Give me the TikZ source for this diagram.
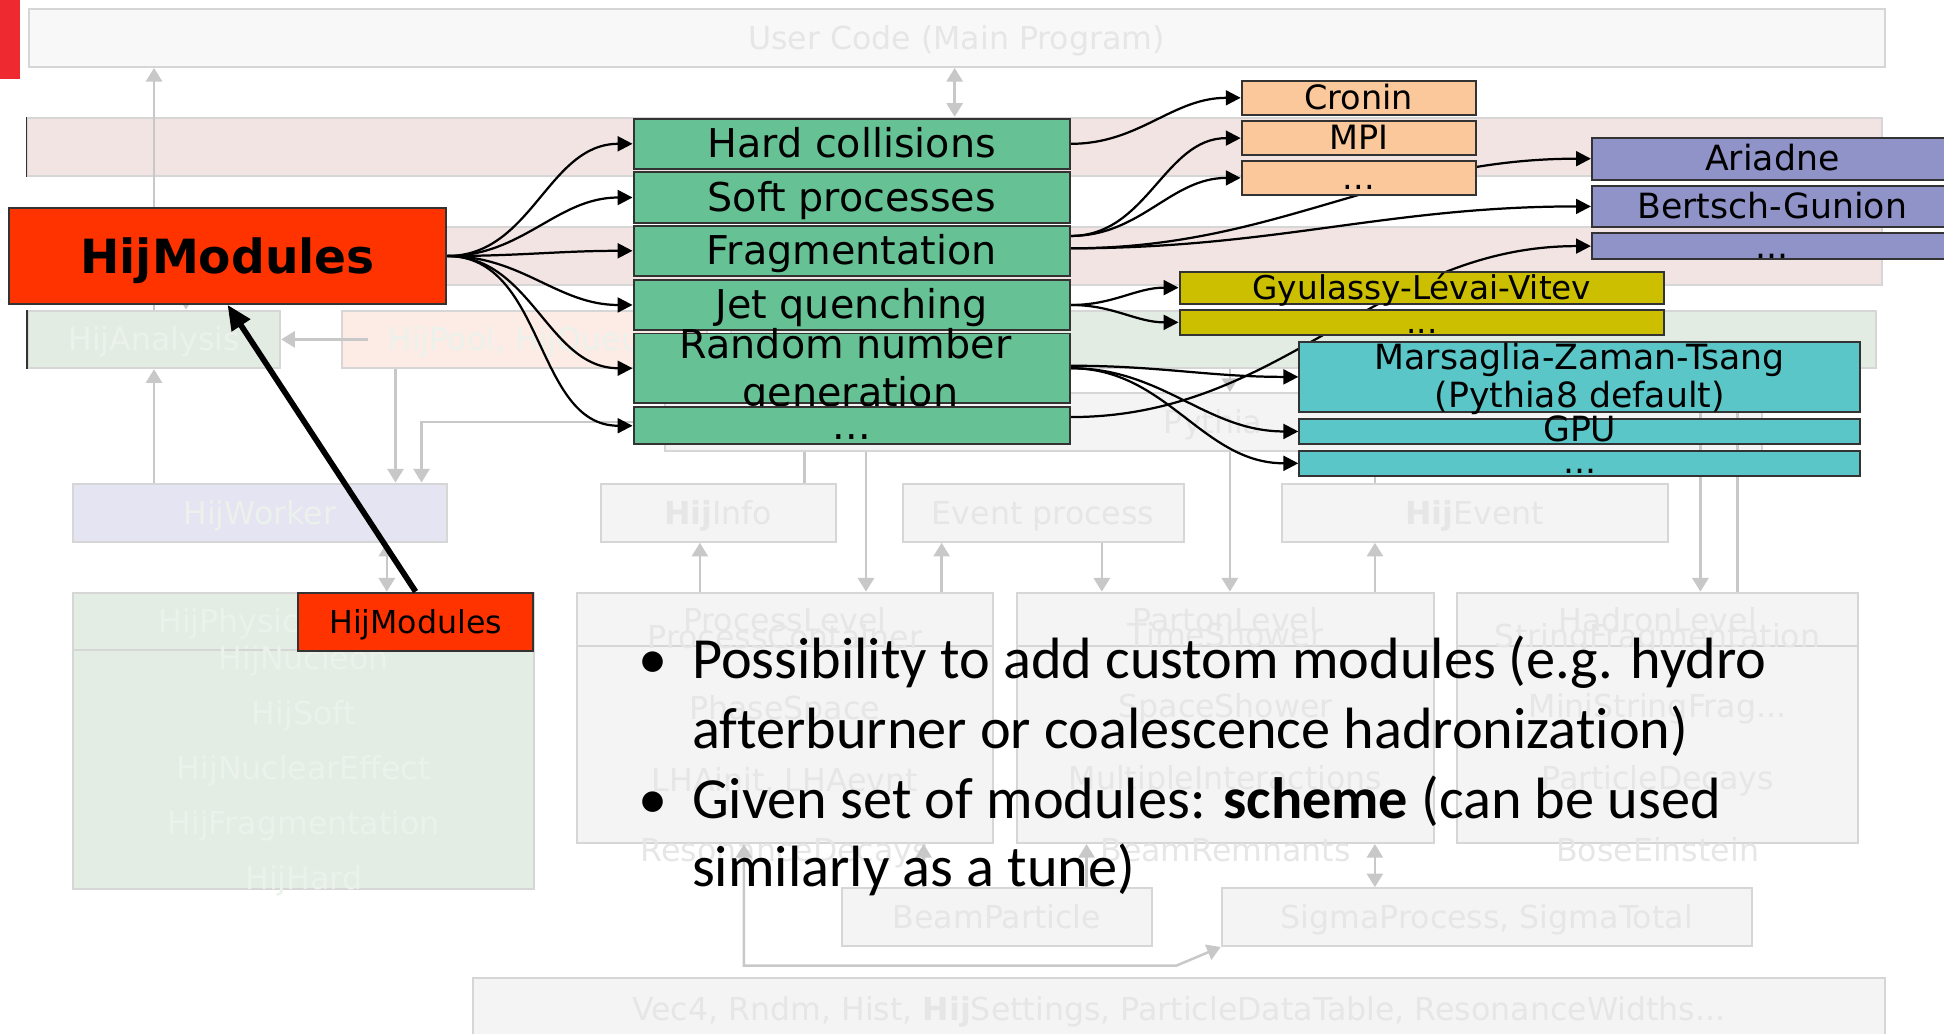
\documentclass[tikz,border=0pt]{standalone}
\usepackage{fontspec}
\setmainfont{DejaVu Sans}
\newfontfamily\calibfont[Ligatures=NoCommon]{Carlito}
\usetikzlibrary{arrows.meta}
\pgfdeclarelayer{bg}\pgfdeclarelayer{mid}\pgfsetlayers{bg,mid,main}
\definecolor{hred}{HTML}{FF3300}
\definecolor{hgreen}{HTML}{66C295}
\definecolor{hpeach}{HTML}{FAC89A}
\definecolor{hpurple}{HTML}{8F93C8}
\definecolor{hyellow}{HTML}{CCBF00}
\definecolor{hcyan}{HTML}{5BC6C8}
\definecolor{hedge}{HTML}{333333}
\definecolor{hredbar}{HTML}{EE2A30}
\definecolor{fgray}{HTML}{F4F4F4}
\definecolor{fborder}{HTML}{D6D6D6}
\definecolor{ftext}{HTML}{E6E6E6}
\definecolor{ftextL}{HTML}{EBF1EB}
\definecolor{farrow}{HTML}{C8C8C8}
\definecolor{fpink}{HTML}{F3E4E4}
\definecolor{fgreen}{HTML}{E3ECE3}
\definecolor{fphys}{HTML}{E4EDE4}
\definecolor{fpool}{HTML}{FDECE5}
\definecolor{fworker}{HTML}{E4E4F3}
\definecolor{fuser}{HTML}{F8F8F8}
\begin{document}
\begin{tikzpicture}[x=1pt,y=-1pt,
  fg/.style={draw=hedge, line width=1.6pt, inner sep=0pt, text depth=0pt},
  gbox/.style={fg, fill=hgreen, minimum width=352pt, font=\fontsize{32}{38}\selectfont, text height=22.6pt},
  gtxt/.style={anchor=base, inner sep=0pt, font=\fontsize{32}{38}\selectfont},
  pbox/.style={fg, fill=hpeach, minimum width=189pt, font=\fontsize{27}{32}\selectfont, text height=18.6pt},
  lbox/.style={fg, fill=hpurple, minimum width=291pt, font=\fontsize{28}{33}\selectfont, text height=19.8pt},
  ybox/.style={fg, fill=hyellow, minimum width=391pt, font=\fontsize{26.4}{31}\selectfont, text height=18.4pt},
  cbox/.style={fg, fill=hcyan, minimum width=452.4pt, font=\fontsize{28}{33}\selectfont, text height=16.5pt},
  ctxt/.style={anchor=base, inner sep=0pt, font=\fontsize{28}{33}\selectfont},
  carr/.style={line width=1.8pt, -{Triangle[length=12pt,width=12pt]}},
  fbox/.style={draw=fborder, line width=1.6pt, fill=fgray, inner sep=0pt, text=ftext, font=\fontsize{25.5}{30.6}\selectfont, text height=18.6pt, text depth=0pt},
  ftxt/.style={text=ftext, font=\fontsize{25.5}{30.6}\selectfont, inner sep=0pt, anchor=base},
  farr/.style={draw=farrow, line width=2pt, -{Triangle[length=11pt,width=13pt]}},
  fdarr/.style={draw=farrow, line width=2pt, {Triangle[length=11pt,width=13pt]}-{Triangle[length=11pt,width=13pt]}},
  fconn/.style={draw=farrow, line width=2pt},
  fdiv/.style={draw=fborder, line width=1.6pt},
  btxt/.style={anchor=base west, inner sep=0pt, font=\calibfont\fontsize{47}{56}\selectfont}
]
\useasboundingbox (0,0) rectangle (1568,834);

% ---------------- faded background diagram ----------------
\begin{pgfonlayer}{bg}
\fill[hredbar] (0,0) rectangle (16,64);
\node[fbox, fill=fuser, minimum width=1497pt, minimum height=47pt] (uc) at (771.5,30.5) {User Code (Main Program)};
\node[fbox, fill=fpink, minimum width=1496pt, minimum height=47pt] (pb1) at (770,118.5) {};
\node[fbox, fill=fpink, minimum width=1496pt, minimum height=47pt] (pb2) at (770,206.5) {};
\node[fbox, fill=fgreen, text=ftextL, minimum width=203.5pt, minimum height=46.5pt] (ana) at (124.25,273.75) {HijAnalysis};
\node[fbox, fill=fpool, text=ftextL, minimum width=294pt, minimum height=46.5pt] (pool) at (423,273.75) {HijPool, HijQueue};
\node[fbox, fill=fgreen, minimum width=923pt, minimum height=46.5pt] (gband) at (1051.5,273.75) {};
\draw[hedge, line width=1.2pt] (pb1.north west) -- (pb1.south west);
\draw[hedge, line width=1.2pt] (ana.north west) -- (ana.south west);
\node[fbox, minimum width=885pt, minimum height=47pt] (pyth) at (978.5,340.5) {Pythia};
\node[fbox, fill=fworker, text=ftextL, minimum width=302pt, minimum height=47pt] (worker) at (209.5,413.5) {HijWorker};
\node[fbox, minimum width=189.3pt, minimum height=47pt] (info) at (579.35,413.5) {\textbf{Hij}Info};
\node[fbox, minimum width=226.6pt, minimum height=47pt] (evproc) at (841.3,413.5) {Event process};
\node[fbox, minimum width=311pt, minimum height=47pt] (event) at (1189.5,413.5) {\textbf{Hij}Event};
\node[fbox, fill=fphys, minimum width=372.5pt, minimum height=239pt] (phys) at (244.75,597.5) {};
\node[fbox, minimum width=336pt, minimum height=202pt] (proc) at (633,579) {};
\node[fbox, minimum width=336.1pt, minimum height=202pt] (parton) at (988.45,579) {};
\node[fbox, minimum width=324pt, minimum height=202pt] (hadron) at (1337,579) {};
\node[fbox, minimum width=250pt, minimum height=46.6pt] (beam) at (804,739.7) {BeamParticle};
\node[fbox, minimum width=427.6pt, minimum height=46.6pt] (sigma) at (1199.2,739.7) {SigmaProcess, SigmaTotal};
\node[fbox, minimum width=1138.5pt, minimum height=70pt] (util) at (950.75,824) {};
\node[ftxt] (utilT) at (950.75,822.8) {Vec4, Rndm, Hist, \textbf{Hij}Settings, ParticleDataTable, ResonanceWidths...};
\draw[fdiv] (phys.north west) ++(0,47) -- ++(372.5,0);
\draw[fdiv] (proc.north west) ++(0,43.5) -- ++(336,0);
\draw[fdiv] (parton.north west) ++(0,43.5) -- ++(336.1,0);
\draw[fdiv] (hadron.north west) ++(0,43.5) -- ++(324,0);
% texts in the level boxes
\node[ftxt, text=ftextL, anchor=base west] (physT) at (127.5,510) {HijPhysics};
\node[ftxt, text=ftextL] (physA) at (245,540) {HijNucleon};
\node[ftxt, text=ftextL] (physB) at (245,584.7) {HijSoft};
\node[ftxt, text=ftextL] (physC) at (245,629) {HijNuclearEffect};
\node[ftxt, text=ftextL] (physD) at (245,673.4) {HijFragmentation};
\node[ftxt, text=ftextL] (physE) at (245,717.7) {HijHard};
\node[ftxt] (procT) at (633,509.4) {ProcessLevel};
\node[ftxt] (procA) at (633,522.8) {ProcessContainer};
\node[ftxt] (procB) at (633,580.6) {PhaseSpace};
\node[ftxt] (procC) at (633,638.4) {LHAinit, LHAevnt};
\node[ftxt] (procD) at (633,694.9) {ResonanceDecays};
\node[ftxt] (partT) at (988.5,509) {PartonLevel};
\node[ftxt] (partA) at (988.5,521.5) {TimeShower};
\node[ftxt] (partB) at (988.5,579) {SpaceShower};
\node[ftxt] (partC) at (988.5,637) {MultipleInteractions};
\node[ftxt] (partD) at (988.5,695) {BeamRemnants};
\node[ftxt] (hadT) at (1337,509) {HadronLevel};
\node[ftxt] (hadA) at (1337,522) {StringFragmentation};
\node[ftxt] (hadB) at (1337,579) {MiniStringFrag...};
\node[ftxt] (hadC) at (1337,637) {ParticleDecays};
\node[ftxt] (hadD) at (1337,695) {BoseEinstein};
% faded connectors
\draw[farr] (ana.north) -- (ana.north |- uc.south);
\draw[fdarr] (pb1.north) -- (pb1.north |- uc.south);
\draw[farr] ([xshift=-620pt]pb2.south) -- ([xshift=-620pt]pb2.south |- ana.north);
\draw[farr] ([xshift=22pt]pool.west) -- (ana.east);
\draw[farr] (worker.north -| ana.north) -- (ana.south);
\draw[farr] ([xshift=-104pt]pool.south) -- ([xshift=-104pt]pool.south |- worker.north);
\draw[farr] (pyth.west) -| ([xshift=130.5pt]worker.north);
\draw[fdarr] ([xshift=102.5pt]worker.south) -- ([xshift=102.5pt]worker.south |- phys.north);
\draw[fconn] ([xshift=69.65pt]info.north) -- ([xshift=69.65pt]info.north |- pyth.south);
\draw[farr] ([xshift=-280pt]pyth.south) -- ([xshift=-280pt]pyth.south |- proc.north);
\draw[farr] ([xshift=-68.5pt]proc.north) -- ([xshift=-68.5pt]proc.north |- info.south);
\draw[farr] ([xshift=126.5pt]proc.north) -- ([xshift=126.5pt]proc.north |- evproc.south);
\draw[farr] ([xshift=47.4pt]evproc.south) -- ([xshift=47.4pt]evproc.south |- parton.north);
\draw[farr] ([xshift=13.5pt]pyth.north |- gband.south) -- ([xshift=13.5pt]pyth.north);
\draw[farr] ([xshift=13.5pt]pyth.south) -- ([xshift=13.5pt]pyth.south |- parton.north);
\draw[farr] ([xshift=-80.5pt]event.south |- parton.north) -- ([xshift=-80.5pt]event.south);
\draw[fconn] ([xshift=-80.5pt]event.north) -- ([xshift=-80.5pt]event.north |- pyth.south);
\draw[farr] ([xshift=34.5pt]hadron.north |- gband.south) -- ([xshift=34.5pt]hadron.north);
\draw[fconn] ([xshift=64.4pt]hadron.north |- gband.south) -- ([xshift=64.4pt]hadron.north);
\draw[fdarr] ([xshift=120.5pt]parton.south) -- ([xshift=120.5pt]parton.south |- sigma.north);
\draw[farr] ([xshift=72.4pt]beam.north) -- ([xshift=72.4pt]beam.north |- parton.south);
\draw[farr] ([xshift=-59pt]beam.north) -- ([xshift=-59pt]beam.north |- proc.south);
\draw[fdarr] ([xshift=-33pt]proc.south) -- ++(0,98) -- ++(349,0) -- (sigma.south west);
\end{pgfonlayer}

% ---------------- foreground modules ----------------
\node[fg, fill=hred, minimum width=353pt, minimum height=77pt, font=\bfseries\fontsize{38}{45}\selectfont, text height=27.7pt] (hm) at (183.5,206.5) {HijModules};
\node[gbox, minimum height=40pt] (hc) at (687,116) {Hard collisions};
\node[gbox, minimum height=40.5pt] (sp) at (687,159.3) {Soft processes};
\node[gbox, minimum height=40.5pt] (fr) at (687,202.3) {Fragmentation};
\node[gbox, minimum height=40.2pt] (jq) at (687,246) {Jet quenching};
\node[gbox, minimum height=56pt] (rng) at (687,297) {};
\node[gtxt] (rngA) at (682,289) {Random number};
\node[gtxt] (rngB) at (686,328) {generation};
\node[gbox, minimum height=30pt] (gdots) at (687,343.4) {...};

\node[pbox, minimum height=27.7pt] (cronin) at (1096,78.9) {Cronin};
\node[pbox, minimum height=27.2pt] (mpi) at (1096,111.4) {MPI};
\node[pbox, minimum height=27.5pt] (odots) at (1096,143.5) {...};

\node[lbox, minimum height=34pt] (ariadne) at (1429.5,128) {Ariadne};
\node[lbox, minimum height=33.6pt] (bertsch) at (1429.5,166.5) {Bertsch-Gunion};
\node[lbox, minimum height=21pt] (pdots) at (1429.5,198.5) {...};

\node[ybox, minimum height=26pt] (glv) at (1146.9,232) {Gyulassy-Lévai-Vitev};
\node[ybox, minimum height=20pt] (ydots) at (1146.9,260) {...};

\node[cbox, minimum height=57pt] (mzt) at (1274.2,304) {};
\node[ctxt] (mztA) at (1274.2,297.8) {Marsaglia-Zaman-Tsang};
\node[ctxt] (mztB) at (1274.2,329) {(Pythia8 default)};
\node[cbox, minimum height=20pt] (gpu) at (1274.2,348) {GPU};
\node[cbox, minimum height=20.5pt] (cdots) at (1274.2,373.7) {...};

\node[fg, fill=hred, minimum width=189.5pt, minimum height=47pt, font=\fontsize{25.5}{30}\selectfont, text height=18.6pt] (hms) at (335.25,501.5) {HijModules};

% ---------------- black connectors ----------------
\begin{pgfonlayer}{mid}
\foreach \t in {hc,sp,fr,jq,rng,gdots}
  \draw[carr] (hm.east) to[out=0,in=180] (\t.west);
\draw[carr] (hc.east) to[out=0,in=180] (cronin.west);
\draw[carr] ([yshift=12pt]fr.east) to[out=0,in=180] (mpi.west);
\draw[carr] ([yshift=12pt]fr.east) to[out=0,in=180] (odots.west);
\draw[carr] ([yshift=2pt]fr.east) to[out=0,in=180] (ariadne.west);
\draw[carr] ([yshift=2pt]fr.east) to[out=0,in=180] (bertsch.west);
\draw[carr] ([yshift=7pt]gdots.east) to[out=0,in=180] (pdots.west);
\draw[carr] (jq.east) to[out=0,in=180] (glv.west);
\draw[carr] (jq.east) to[out=0,in=180] (ydots.west);
\draw[carr] ([yshift=2pt]rng.east) to[out=0,in=180] (mzt.west);
\draw[carr] (rng.east) to[out=0,in=180] (gpu.west);
\draw[carr] (rng.east) to[out=0,in=180] (cdots.west);
\end{pgfonlayer}

\draw[line width=4.6pt, -{Triangle[length=20pt,width=17pt]}] (hms.north) -- (hm.south);

% ---------------- bullet text ----------------
\node[btxt] (l1) at (558,547) {\llap{\textbullet\hspace{20pt}}Possibility to add custom modules (e.g. hydro};
\node[btxt] (l2) at (558,603.5) {afterburner or coalescence hadronization)};
\node[btxt] (l3) at (558,660) {\llap{\textbullet\hspace{20pt}}Given set of modules: \textbf{scheme} (can be used};
\node[btxt] (l4) at (558,715) {similarly as a tune)};
\end{tikzpicture}
\end{document}
